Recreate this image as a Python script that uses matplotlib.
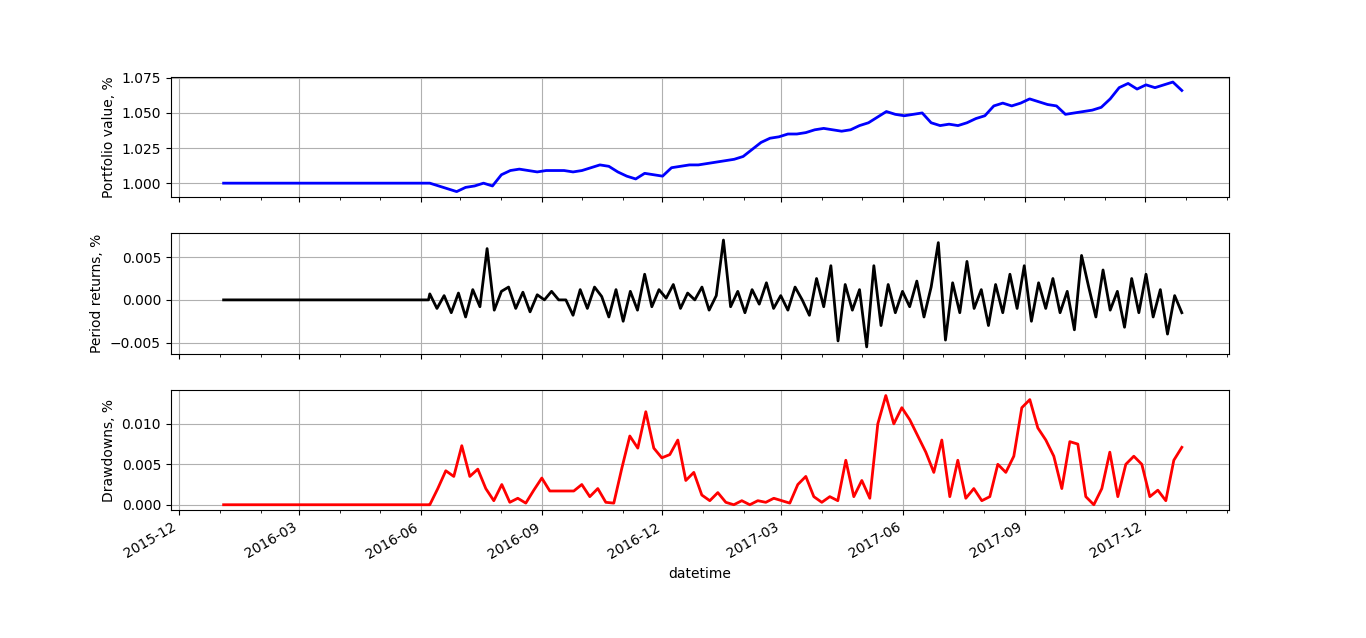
import numpy as np
import pandas as pd
import matplotlib
matplotlib.use("Agg")
import matplotlib.pyplot as plt
import matplotlib.dates as mdates

flat_start = "2016-01-04"
active_start = "2016-06-08"
end_date = "2017-12-29"

value = [1.000, 0.998, 0.996, 0.994, 0.997, 0.998, 1.000, 0.998,
         1.006, 1.009, 1.010, 1.009, 1.008, 1.009, 1.009, 1.009, 1.008,
         1.009, 1.011, 1.013, 1.012, 1.008, 1.005, 1.003, 1.007, 1.006,
         1.005, 1.011, 1.012, 1.013, 1.013, 1.014, 1.015, 1.016, 1.017,
         1.019, 1.024, 1.029, 1.032, 1.033, 1.035, 1.035, 1.036, 1.038,
         1.039, 1.038, 1.037, 1.038, 1.041, 1.043, 1.047, 1.051, 1.049,
         1.048, 1.049, 1.050, 1.043, 1.041, 1.042, 1.041, 1.043,
         1.046, 1.048, 1.055, 1.057, 1.055, 1.057, 1.060, 1.058, 1.056,
         1.055, 1.049, 1.050, 1.051, 1.052, 1.054, 1.060, 1.068, 1.071,
         1.067, 1.070, 1.068, 1.070, 1.072, 1.066]

returns = [0.0007, -0.0010, 0.0005, -0.0015, 0.0008, -0.0020, 0.0012, -0.0008,
           0.0060, -0.0012, 0.0010, 0.0015, -0.0010, 0.0009, -0.0014, 0.0006,
           0.0000, 0.0010, 0.0000, 0.0000, -0.0018, 0.0012, -0.0010, 0.0015,
           0.0004, -0.0020, 0.0012, -0.0025, 0.0010, -0.0012, 0.0030, -0.0008,
           0.0012, 0.0002, 0.0018, -0.0010, 0.0008, 0.0000, 0.0015, -0.0012,
           0.0005, 0.0070, -0.0008, 0.0010, -0.0015, 0.0012, -0.0005, 0.0020,
           -0.0010, 0.0005, -0.0012, 0.0015, 0.0000, -0.0018, 0.0025, -0.0008,
           0.0040, -0.0048, 0.0018, -0.0012, 0.0012, -0.0055, 0.0040, -0.0030,
           0.0018, -0.0015, 0.0010, -0.0008, 0.0022, -0.0020, 0.0015, 0.0067,
           -0.0047, 0.0020, -0.0015, 0.0045, -0.0010, 0.0012, -0.0030, 0.0018,
           -0.0015, 0.0030, -0.0010, 0.0040, -0.0025, 0.0020, -0.0010, 0.0025,
           -0.0015, 0.0010, -0.0035, 0.0052, 0.0015, -0.0020, 0.0035, -0.0012,
           0.0010, -0.0032, 0.0025, -0.0015, 0.0030, -0.0020, 0.0012, -0.0040,
           0.0005, -0.0015]

drawdown = [0.0000, 0.0020, 0.0042, 0.0035, 0.0073, 0.0035, 0.0044, 0.0020,
            0.0005, 0.0025, 0.0003, 0.0008, 0.0002, 0.0018, 0.0033, 0.0017,
            0.0017, 0.0017, 0.0017, 0.0025, 0.0010, 0.0020, 0.0003, 0.0002,
            0.0045, 0.0085, 0.0070, 0.0115, 0.0070, 0.0058, 0.0062, 0.0080,
            0.0030, 0.0040, 0.0012, 0.0005, 0.0015, 0.0003, 0.0000, 0.0005,
            0.0000, 0.0005, 0.0003, 0.0008, 0.0005, 0.0002, 0.0025, 0.0035,
            0.0010, 0.0003, 0.0010, 0.0005, 0.0055, 0.0010, 0.0030, 0.0008,
            0.0100, 0.0135, 0.0100, 0.0120, 0.0105, 0.0085, 0.0065, 0.0040,
            0.0080, 0.0010, 0.0055, 0.0008, 0.0020, 0.0005, 0.0010, 0.0050,
            0.0040, 0.0060, 0.0120, 0.0130, 0.0095, 0.0080, 0.0060, 0.0020,
            0.0078, 0.0075, 0.0010, 0.0000, 0.0020, 0.0065, 0.0010, 0.0050,
            0.0060, 0.0050, 0.0010, 0.0018, 0.0005, 0.0055, 0.0071]

flat_levels = [1.0, 0.0, 0.0]


def series(vals, flat):
    d = pd.date_range(active_start, end_date, periods=len(vals))
    dates = [pd.Timestamp(flat_start), d[0] - pd.Timedelta(days=1)] + list(d)
    return dates, [flat, flat] + list(vals)


fig, axes = plt.subplots(3, 1, figsize=(13.66, 6.38), dpi=100, sharex=True)
fig.subplots_adjust(left=0.125, right=0.9, top=0.88, bottom=0.2, hspace=0.3)

specs = [(value, "blue", "Portfolio value, %"),
         (returns, "black", "Period returns, %"),
         (drawdown, "red", "Drawdowns, %")]
for ax, (vals, col, lab), fl in zip(axes, specs, flat_levels):
    dts, ys = series(vals, fl)
    ax.plot(dts, ys, color=col, lw=2)
    ax.set_ylabel(lab)
    ax.grid(True)

axes[0].set_yticks([1.000, 1.025, 1.050, 1.075])
axes[1].set_yticks([-0.005, 0.0, 0.005])
axes[1].set_ylim(-0.0063, 0.0078)
axes[2].set_yticks([0.0, 0.005, 0.010])
axes[2].set_ylim(-0.0007, 0.0142)

ax = axes[2]
ax.set_xlim(pd.Timestamp("2015-11-25"), pd.Timestamp("2018-02-03"))
ax.xaxis.set_major_locator(mdates.MonthLocator(bymonth=[3, 6, 9, 12]))
ax.xaxis.set_major_formatter(mdates.DateFormatter("%Y-%m"))
ax.xaxis.set_minor_locator(mdates.MonthLocator())
for lbl in ax.get_xticklabels():
    lbl.set_rotation(30)
    lbl.set_ha("right")
ax.set_xlabel("datetime")

fig.savefig("out.png")
